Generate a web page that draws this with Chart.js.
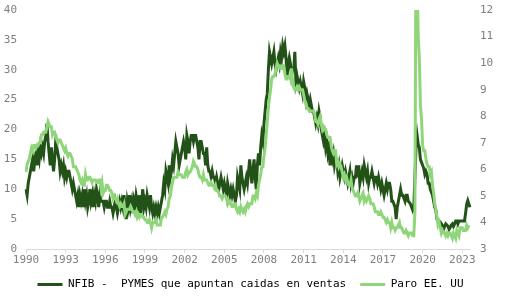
<!DOCTYPE html>
<html>
<head>
<meta charset="utf-8">
<script src="https://cdn.jsdelivr.net/npm/chart.js@4/dist/chart.umd.min.js"></script>
<style>
  html, body { margin: 0; padding: 0; background: #ffffff; }
  #wrap { width: 513px; height: 300px; position: relative; }
</style>
</head>
<body>
<div id="wrap"><canvas id="c" width="513" height="300"></canvas></div>
<script>
// Monthly series, starting October 1990
const startYear = 1990;
const startMonth = 9; // October (0-based)

// NFIB - % of small firms reporting lower sales (left axis)
const nfib = [
  10, 9, 11,
  12, 13, 14, 15, 13, 15, 16, 14, 16, 15, 17, 16,
  17, 16, 18, 19, 21, 18, 16, 14, 17, 15, 13, 15,
  18, 17, 16, 15, 13, 14, 13, 14, 12, 13, 12, 13,
  13, 12, 11, 10, 11, 10, 9, 8, 9, 7, 9, 8,
  9, 7, 10, 8, 9, 7, 8, 10, 8, 9, 7, 9,
  8, 10, 9, 7, 9, 8, 8, 8, 7, 8, 8, 7,
  7, 8, 7, 7, 6, 7, 8, 7, 6, 7, 8, 7,
  8, 7, 9, 7, 5, 8, 7, 9, 7, 8, 6, 8,
  7, 9, 8, 7, 9, 6, 8, 10, 7, 8, 7, 9,
  8, 7, 9, 7, 6, 7, 6, 7, 6, 7, 6, 7,
  8, 9, 11, 10, 13, 12, 11, 14, 12, 13, 15, 14,
  16, 18, 17, 16, 14, 15, 16, 17, 18, 17, 15, 19,
  18, 16, 18, 19, 19, 18, 19, 19, 18, 17, 15, 18,
  18, 17, 16, 16, 14, 17, 14, 13, 13, 12, 13, 12,
  12, 11, 12, 11, 10, 11, 12, 11, 10, 11, 10, 9,
  11, 10, 9, 10, 9, 10, 9, 8, 9, 12, 11, 10,
  14, 12, 11, 10, 11, 12, 11, 13, 15, 13, 11, 13,
  15, 12, 10, 14, 16, 14, 17, 19, 18, 21, 23, 25,
  26, 30, 33, 32, 31, 32, 33, 31, 30, 31, 32, 31,
  33, 32, 34, 33, 34, 32, 29, 31, 32, 31, 29, 30,
  30, 33, 28, 29, 28, 27, 28, 27, 26, 28, 27, 25,
  26, 25, 24, 25, 24, 23, 23, 22, 21, 22, 21, 23,
  22, 20, 19, 18, 19, 17, 18, 16, 17, 14, 16, 15,
  16, 14, 15, 15, 13, 14, 12, 13, 14, 13, 12, 13,
  12, 11, 12, 13, 11, 12, 11, 12, 12, 14, 12, 14,
  11, 12, 13, 12, 14, 13, 12, 13, 11, 12, 12, 13,
  12, 11, 12, 12, 11, 12, 11, 10, 11, 10, 9, 10,
  11, 10, 11, 11, 10, 8, 8, 7.5, 7, 5, 7, 8,
  9, 10, 9, 9, 8.5, 8, 9, 9, 8, 7.8, 7.5, 7,
  6.5, 7, 12, 17, 19, 17.5, 17, 15, 14.5, 14, 13.5, 12.5,
  13, 12.5, 11, 11, 10, 9.5, 9, 8, 7, 6.5, 5, 4.8,
  4.7, 4.5, 4.2, 3.9, 3.3, 3.8, 4.2, 4.0, 3.8, 3.3, 3.6, 4.0,
  4.2, 3.8, 4.2, 4.7, 4.7, 4.2, 4.7, 4.7, 4.7, 4.7, 4.7, 4.7,
  6.0, 7.5, 8.1, 7.5, 7.0
];

// US unemployment rate, % (right axis)
const paro = [
  5.9, 6.2, 6.3,
  6.4, 6.6, 6.8, 6.7, 6.9, 6.9, 6.8, 6.9, 6.9, 7.0, 7.0, 7.3,
  7.3, 7.4, 7.4, 7.4, 7.6, 7.8, 7.7, 7.6, 7.6, 7.3, 7.4, 7.4,
  7.3, 7.1, 7.0, 7.1, 7.1, 7.0, 6.9, 6.8, 6.7, 6.8, 6.6, 6.5,
  6.6, 6.6, 6.5, 6.4, 6.1, 6.1, 6.1, 6.0, 5.9, 5.8, 5.6, 5.5,
  5.6, 5.4, 5.4, 5.8, 5.6, 5.6, 5.7, 5.7, 5.6, 5.5, 5.6, 5.6,
  5.6, 5.5, 5.5, 5.6, 5.6, 5.3, 5.5, 5.1, 5.2, 5.2, 5.4, 5.4,
  5.3, 5.2, 5.2, 5.1, 4.9, 5.0, 4.9, 4.8, 4.9, 4.7, 4.6, 4.7,
  4.6, 4.6, 4.7, 4.3, 4.4, 4.5, 4.5, 4.5, 4.6, 4.5, 4.4, 4.4,
  4.3, 4.4, 4.2, 4.3, 4.2, 4.3, 4.3, 4.2, 4.2, 4.1, 4.1, 4.0,
  4.0, 4.1, 4.0, 3.8, 4.0, 4.0, 4.0, 4.1, 3.9, 3.9, 3.9, 3.9,
  4.2, 4.2, 4.3, 4.4, 4.3, 4.5, 4.6, 4.9, 5.0, 5.3, 5.5, 5.7,
  5.7, 5.7, 5.7, 5.9, 5.8, 5.8, 5.8, 5.7, 5.7, 5.7, 5.9, 6.0,
  5.8, 5.9, 5.9, 6.0, 6.1, 6.3, 6.2, 6.1, 6.1, 6.0, 5.8, 5.7,
  5.7, 5.6, 5.8, 5.6, 5.6, 5.6, 5.5, 5.4, 5.4, 5.5, 5.4, 5.4,
  5.3, 5.4, 5.2, 5.2, 5.1, 5.0, 5.0, 4.9, 5.0, 5.0, 5.0, 4.9,
  4.7, 4.8, 4.7, 4.7, 4.6, 4.6, 4.7, 4.7, 4.5, 4.4, 4.5, 4.4,
  4.6, 4.5, 4.4, 4.5, 4.4, 4.6, 4.7, 4.6, 4.7, 4.7, 4.7, 5.0,
  5.0, 4.9, 5.1, 5.0, 5.4, 5.6, 5.8, 6.1, 6.1, 6.5, 6.8, 7.3,
  7.8, 8.3, 8.7, 9.0, 9.4, 9.5, 9.5, 9.6, 9.8, 10.0, 9.9, 9.9,
  9.8, 9.8, 9.9, 9.9, 9.6, 9.4, 9.4, 9.5, 9.5, 9.4, 9.8, 9.3,
  9.1, 9.0, 9.0, 9.1, 9.0, 9.1, 9.0, 9.0, 9.0, 8.8, 8.6, 8.5,
  8.3, 8.3, 8.2, 8.2, 8.2, 8.2, 8.2, 8.1, 7.8, 7.8, 7.7, 7.9,
  8.0, 7.7, 7.5, 7.6, 7.5, 7.5, 7.3, 7.2, 7.2, 7.2, 6.9, 6.7,
  6.6, 6.7, 6.7, 6.2, 6.3, 6.1, 6.2, 6.1, 5.9, 5.7, 5.8, 5.6,
  5.7, 5.5, 5.4, 5.4, 5.6, 5.3, 5.2, 5.1, 5.0, 5.0, 5.1, 5.0,
  4.8, 4.9, 5.0, 5.1, 4.8, 4.9, 4.8, 4.9, 5.0, 4.9, 4.7, 4.7,
  4.7, 4.6, 4.4, 4.4, 4.4, 4.3, 4.3, 4.4, 4.3, 4.2, 4.2, 4.1,
  4.0, 4.1, 4.0, 4.0, 3.8, 4.0, 3.8, 3.8, 3.7, 3.8, 3.8, 3.9,
  4.0, 3.8, 3.8, 3.7, 3.6, 3.6, 3.7, 3.6, 3.5, 3.6, 3.6, 3.6,
  3.5, 3.5, 4.4, 14.8, 13.2, 11.0, 10.2, 8.4, 7.9, 6.9, 6.7, 6.7,
  6.4, 6.2, 6.1, 6.1, 5.8, 5.9, 5.4, 5.1, 4.7, 4.5, 4.2, 3.9,
  4.0, 3.8, 3.6, 3.7, 3.6, 3.6, 3.5, 3.6, 3.5, 3.6, 3.6, 3.5,
  3.4, 3.6, 3.5, 3.4, 3.7, 3.6, 3.5, 3.8, 3.8, 3.8, 3.7, 3.7,
  3.7, 3.9, 3.8, 3.9
];

const seriesNames = ['NFIB -  PYMES que apuntan caidas en ventas', 'Paro EE. UU'];
const seriesColors = ['#225218', '#8fd67a'];
const tickEvery = 36; // one year label every three years

const months = nfib.map((_, i) => {
  const t = startMonth + i;
  return (startYear + Math.floor(t / 12)) + '-' + String(t % 12 + 1).padStart(2, '0');
});

const FONT = 'DejaVu Sans Mono';

function noPad(s) { s.paddingTop = 0; s.paddingBottom = 0; s.paddingLeft = 0; s.paddingRight = 0; }

new Chart(document.getElementById('c'), {
  type: 'line',
  data: {
    labels: months,
    datasets: [
      {
        label: seriesNames[0],
        data: nfib,
        yAxisID: 'y',
        borderColor: seriesColors[0],
        backgroundColor: seriesColors[0],
        borderWidth: 3,
        pointRadius: 0,
        tension: 0,
        order: 1
      },
      {
        label: seriesNames[1],
        data: paro,
        yAxisID: 'y1',
        borderColor: seriesColors[1],
        backgroundColor: seriesColors[1],
        borderWidth: 3,
        pointRadius: 0,
        tension: 0,
        order: 0
      }
    ]
  },
  options: {
    responsive: false,
    animation: false,
    events: [],
    layout: { padding: { top: 10, right: 12, bottom: 0, left: 0 } },
    plugins: {
      tooltip: { enabled: false },
      legend: {
        position: 'bottom',
        labels: {
          font: { family: FONT, size: 11 },
          color: '#595959',
          boxWidth: 25,
          boxHeight: 3,
          padding: 14,
          sort: (a, b) => a.datasetIndex - b.datasetIndex,
          generateLabels: (chart) => chart.data.datasets.map((ds, i) => ({
            text: ds.label,
            fillStyle: ds.borderColor,
            strokeStyle: ds.borderColor,
            lineWidth: 0,
            hidden: false,
            datasetIndex: i
          }))
        }
      }
    },
    scales: {
      x: {
        type: 'category',
        offset: false,
        afterBuildTicks: (s) => { s.ticks = s.ticks.filter(t => t.value % tickEvery === 0); },
        afterFit: (s) => { s.height = 16; noPad(s); },
        ticks: {
          autoSkip: false,
          maxRotation: 0,
          minRotation: 0,
          padding: 1,
          color: '#7f7f7f',
          font: { family: FONT, size: 11 },
          callback: function (v) { return months[v].slice(0, 4); }
        },
        grid: { display: true, drawOnChartArea: false, drawTicks: true, tickLength: 4, color: '#d9d9d9' },
        border: { display: true, color: '#d9d9d9', width: 1 }
      },
      y: {
        position: 'left',
        min: 0,
        max: 40,
        afterFit: (s) => { s.width = 26; noPad(s); },
        ticks: { stepSize: 5, padding: 9, color: '#7f7f7f', font: { family: FONT, size: 11 } },
        grid: { display: false, drawTicks: false },
        border: { display: false }
      },
      y1: {
        position: 'right',
        min: 3,
        max: 12,
        afterFit: (s) => { s.width = 31; noPad(s); },
        ticks: { stepSize: 1, padding: 10, color: '#7f7f7f', font: { family: FONT, size: 11 } },
        grid: { display: false, drawTicks: false },
        border: { display: false }
      }
    }
  }
});
</script>
</body>
</html>
